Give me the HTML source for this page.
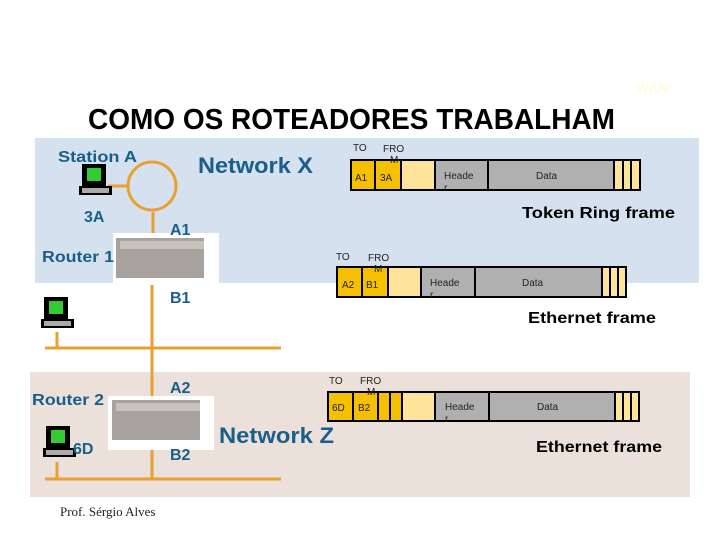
<!DOCTYPE html>
<html><head><meta charset="utf-8"><style>
body{margin:0;width:720px;height:540px;overflow:hidden;background:#fff}
svg{display:block}
text{font-family:"Liberation Sans",sans-serif}
.b{font-weight:bold;fill:#1a5f8a}
.s{font-size:10px;fill:#222}
</style></head><body>
<svg width="720" height="540" viewBox="0 0 720 540">
<text x="636" y="93" font-size="14" font-weight="bold" fill="#fffbe0">WAN</text>
<text x="88" y="129" font-size="29" font-weight="bold" fill="#000" textLength="527" lengthAdjust="spacingAndGlyphs">COMO OS ROTEADORES TRABALHAM</text>
<rect x="35" y="138" width="664" height="145" fill="#d5e1ee"/>
<rect x="30" y="372" width="660" height="125" fill="#ece0db"/>
<g stroke="#e8a030" stroke-width="3" fill="none">
<circle cx="152" cy="186" r="24"/>
<line x1="108" y1="186" x2="128" y2="186"/>
<line x1="153" y1="212" x2="153" y2="236"/>
<line x1="152" y1="285" x2="152" y2="372"/>
<line x1="45" y1="348" x2="281" y2="348"/>
<line x1="57" y1="332" x2="57" y2="348"/>
<line x1="152" y1="372" x2="152" y2="479"/>
<line x1="45" y1="479" x2="281" y2="479"/>
<line x1="57" y1="462" x2="57" y2="479"/>
</g>
<g>
<rect x="113" y="233" width="106" height="50" fill="#fff"/>
<rect x="116" y="238" width="88" height="40" fill="#a8a29e"/>
<rect x="120" y="241" width="84" height="8" fill="#c8c2bd"/>
<rect x="108" y="396" width="106" height="54" fill="#fff"/>
<rect x="112" y="400" width="88" height="40" fill="#a8a29e"/>
<rect x="116" y="403" width="84" height="8" fill="#c8c2bd"/>
</g>
<g id="pc">
<rect x="82" y="164" width="24" height="22" fill="#000"/>
<rect x="87" y="168" width="14" height="13" fill="#3c3"/>
<rect x="79" y="186" width="33" height="9" fill="#000"/>
<rect x="82" y="188" width="27" height="5" fill="#aaa"/>
</g>
<use href="#pc" x="-38" y="133"/>
<use href="#pc" x="-36" y="262"/>
<text x="58" y="162" font-size="16" class="b" textLength="79" lengthAdjust="spacingAndGlyphs">Station A</text>
<text x="198" y="173" font-size="22" class="b" textLength="115" lengthAdjust="spacingAndGlyphs">Network X</text>
<text x="84" y="222" font-size="16" class="b">3A</text>
<text x="170" y="235" font-size="16" class="b">A1</text>
<text x="42" y="262" font-size="16" class="b" textLength="72" lengthAdjust="spacingAndGlyphs">Router 1</text>
<text x="170" y="303" font-size="16" class="b">B1</text>
<text x="170" y="393" font-size="16" class="b">A2</text>
<text x="32" y="405" font-size="16" class="b" textLength="72" lengthAdjust="spacingAndGlyphs">Router 2</text>
<text x="73" y="454" font-size="16" class="b">6D</text>
<text x="170" y="460" font-size="16" class="b">B2</text>
<text x="219" y="443" font-size="22" class="b" textLength="115" lengthAdjust="spacingAndGlyphs">Network Z</text>
<text x="60" y="516" font-size="13" fill="#222" style="font-family:'Liberation Serif',serif">Prof. Sérgio Alves</text>
<g stroke="#000" stroke-width="2">
<rect x="351" y="160" width="24" height="30" fill="#f5c000"/>
<rect x="375" y="160" width="26" height="30" fill="#f5c000"/>
<rect x="401" y="160" width="34" height="30" fill="#fde49a"/>
<rect x="435" y="160" width="53" height="30" fill="#b0b0b0"/>
<rect x="488" y="160" width="126" height="30" fill="#b0b0b0"/>
<rect x="614" y="160" width="9" height="30" fill="#fde49a"/>
<rect x="623" y="160" width="8" height="30" fill="#fde49a"/>
<rect x="631" y="160" width="9" height="30" fill="#fde49a"/>
</g>
<text x="353" y="151" class="s">TO</text><text x="383" y="152" class="s">FRO</text><text x="390" y="163" class="s">M</text>
<text x="355" y="181" class="s">A1</text><text x="380" y="181" class="s">3A</text>
<text x="444" y="179" class="s">Heade</text><text x="444" y="191" class="s">r</text>
<text x="536" y="179" class="s">Data</text>
<text x="522" y="218" font-size="16" font-weight="bold" textLength="153" lengthAdjust="spacingAndGlyphs">Token Ring frame</text>
<g stroke="#000" stroke-width="2">
<rect x="337" y="267" width="25" height="30" fill="#f5c000"/>
<rect x="362" y="267" width="26" height="30" fill="#f5c000"/>
<rect x="388" y="267" width="33" height="30" fill="#fde49a"/>
<rect x="421" y="267" width="54" height="30" fill="#b0b0b0"/>
<rect x="475" y="267" width="127" height="30" fill="#b0b0b0"/>
<rect x="602" y="267" width="8" height="30" fill="#fde49a"/>
<rect x="610" y="267" width="8" height="30" fill="#fde49a"/>
<rect x="618" y="267" width="8" height="30" fill="#fde49a"/>
</g>
<text x="336" y="260" class="s">TO</text><text x="368" y="261" class="s">FRO</text><text x="374" y="272" class="s">M</text>
<text x="342" y="288" class="s">A2</text><text x="366" y="288" class="s">B1</text>
<text x="430" y="286" class="s">Heade</text><text x="430" y="298" class="s">r</text>
<text x="522" y="286" class="s">Data</text>
<text x="528" y="323" font-size="16" font-weight="bold" textLength="128" lengthAdjust="spacingAndGlyphs">Ethernet frame</text>
<g stroke="#000" stroke-width="2">
<rect x="328" y="392" width="25" height="29" fill="#f5c000"/>
<rect x="353" y="392" width="25" height="29" fill="#f5c000"/>
<rect x="378" y="392" width="12" height="29" fill="#f5c000"/>
<rect x="390" y="392" width="12" height="29" fill="#f5c000"/>
<rect x="402" y="392" width="33" height="29" fill="#fde49a"/>
<rect x="435" y="392" width="54" height="29" fill="#b0b0b0"/>
<rect x="489" y="392" width="126" height="29" fill="#b0b0b0"/>
<rect x="615" y="392" width="8" height="29" fill="#fde49a"/>
<rect x="623" y="392" width="8" height="29" fill="#fde49a"/>
<rect x="631" y="392" width="8" height="29" fill="#fde49a"/>
</g>
<text x="329" y="384" class="s">TO</text><text x="360" y="384" class="s">FRO</text><text x="367" y="395" class="s">M</text>
<text x="332" y="411" class="s">6D</text><text x="358" y="411" class="s">B2</text>
<text x="445" y="410" class="s">Heade</text><text x="445" y="422" class="s">r</text>
<text x="537" y="410" class="s">Data</text>
<text x="536" y="452" font-size="16" font-weight="bold" textLength="126" lengthAdjust="spacingAndGlyphs">Ethernet frame</text>
</svg>
</body></html>
